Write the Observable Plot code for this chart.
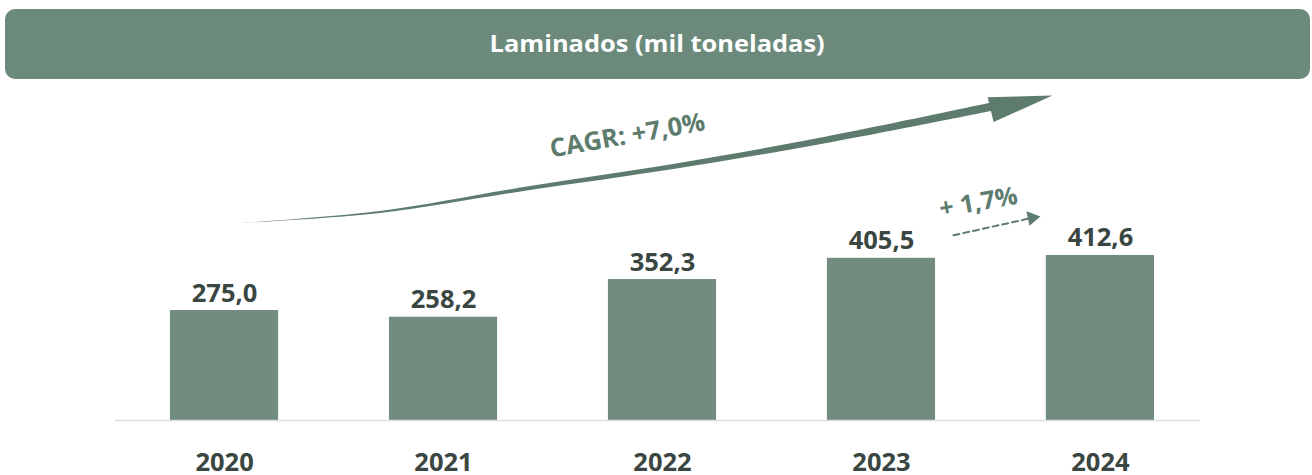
<!DOCTYPE html>
<html>
<head>
<meta charset="utf-8">
<script src="https://cdn.jsdelivr.net/npm/d3@7"></script>
<script src="https://cdn.jsdelivr.net/npm/@observablehq/plot@0.6"></script>
<style>
  html, body { margin: 0; padding: 0; background: #ffffff; width: 1312px; height: 475px; overflow: hidden; }
  #banner { margin: 9px 0 0 5px; width: 1305px; height: 70px; background: #6c8a7c; border-radius: 10px;
            display: flex; align-items: center; justify-content: center; }
  #banner span { color: #ffffff; font-family: 'Open Sans', sans-serif; font-weight: 700; font-size: 23.5px;
                 display: inline-block; transform: scaleX(1.08); margin-top: -2px; }
  #chart svg { display: block; }
  #chart text.num { letter-spacing: 2px; }
  #chart text.yr { letter-spacing: 1px; }
</style>
</head>
<body>
<div id="banner"><span id="title"></span></div>
<div id="chart"></div>
<script>
// ---- data ----
const titleText = "Laminados (mil toneladas)";
const years = [2020, 2021, 2022, 2023, 2024];
const yearLabels = ["2020", "2021", "2022", "2023", "2024"];
const values = [275.0, 258.2, 352.3, 405.5, 412.6];
const cagrLabel = "CAGR: +7,0%";
const yoyLabel = "+ 1,7%";

// CAGR arrow (annotation) in data coordinates: year position, value level, thickness (value units)
const cagrX = [2020.082, 2020.712, 2021.397, 2022.037, 2022.721, 2023.52];
const cagrY = [492.5, 520, 580, 632.5, 697.5, 785];
const cagrW = [0, 5, 10, 12.5, 16, 21];
const cagrHeadX = [2023.485, 2023.781, 2023.512];
const cagrHeadY = [808, 812.5, 746];
const cagrTextAt = {x: 2021.84, y: 712};
// +1,7% dashed arrow
const yoyLineX = [2023.329, 2023.675];
const yoyLineY = [463, 505];
const yoyHeadX = [2023.662, 2023.726, 2023.676];
const yoyHeadY = [523, 510, 487];
const yoyTextAt = {x: 2023.443, y: 545};

// ---- build tables ----
document.getElementById("title").textContent = titleText;
const rows = years.map((yr, i) => ({year: yr, label: yearLabels[i], value: values[i]}));
const cagrBody = cagrX.map((x, i) => ({x, lo: cagrY[i] - cagrW[i] / 2, hi: cagrY[i] + cagrW[i] / 2}));
const cagrHead = cagrHeadX.map((x, i) => ({x, y: cagrHeadY[i]}));
const yoyLine = yoyLineX.map((x, i) => ({x, y: yoyLineY[i]}));
const yoyHead = yoyHeadX.map((x, i) => ({x, y: yoyHeadY[i]}));
const fmt = v => d3.format(".1f")(v).replace(".", ",");

const barColor = "#728c7f";
const arrowColor = "#5d7c6d";
const dark = "#3a4641";
const halfBar = 0.247;

const chart = Plot.plot({
  width: 1312,
  height: 396,
  marginLeft: 115,
  marginRight: 112,
  marginTop: 141,
  marginBottom: 55,
  x: {type: "linear", domain: [2019.502, 2024.457], axis: null},
  y: {domain: [0, 500], axis: null},
  style: {fontFamily: "'Open Sans', sans-serif", overflow: "visible", background: "transparent"},
  marks: [
    Plot.rectY(rows, {x1: d => d.year - halfBar, x2: d => d.year + halfBar, y: "value", fill: barColor}),
    Plot.ruleY([0], {stroke: "#dedede", strokeWidth: 1.5}),
    Plot.text(rows, {x: "year", y: "value", text: d => fmt(d.value), dy: -9, lineAnchor: "bottom",
      fontSize: 25.5, fontWeight: "bold", fill: dark, className: "num"}),
    Plot.text(rows, {x: "year", y: 0, text: "label", dy: 50, lineAnchor: "bottom",
      fontSize: 25.5, fontWeight: "bold", fill: dark, className: "yr"}),
    // CAGR arrow
    Plot.areaY(cagrBody, {x: "x", y1: "lo", y2: "hi", curve: "catmull-rom", fill: arrowColor}),
    Plot.line(cagrHead, {x: "x", y: "y", fill: arrowColor, stroke: "none", curve: "linear-closed"}),
    Plot.text([cagrTextAt], {x: "x", y: "y", text: () => cagrLabel, rotate: -10, fontSize: 25.5,
      fontWeight: "bold", fill: arrowColor, className: "num"}),
    // +1,7% arrow
    Plot.line(yoyLine, {x: "x", y: "y", stroke: arrowColor, strokeWidth: 2, strokeDasharray: "6,4"}),
    Plot.line(yoyHead, {x: "x", y: "y", fill: arrowColor, stroke: "none", curve: "linear-closed"}),
    Plot.text([yoyTextAt], {x: "x", y: "y", text: () => yoyLabel, rotate: -10, fontSize: 25,
      fontWeight: "bold", fill: arrowColor, className: "num"})
  ]
});
document.getElementById("chart").appendChild(chart);
</script>
</body>
</html>
